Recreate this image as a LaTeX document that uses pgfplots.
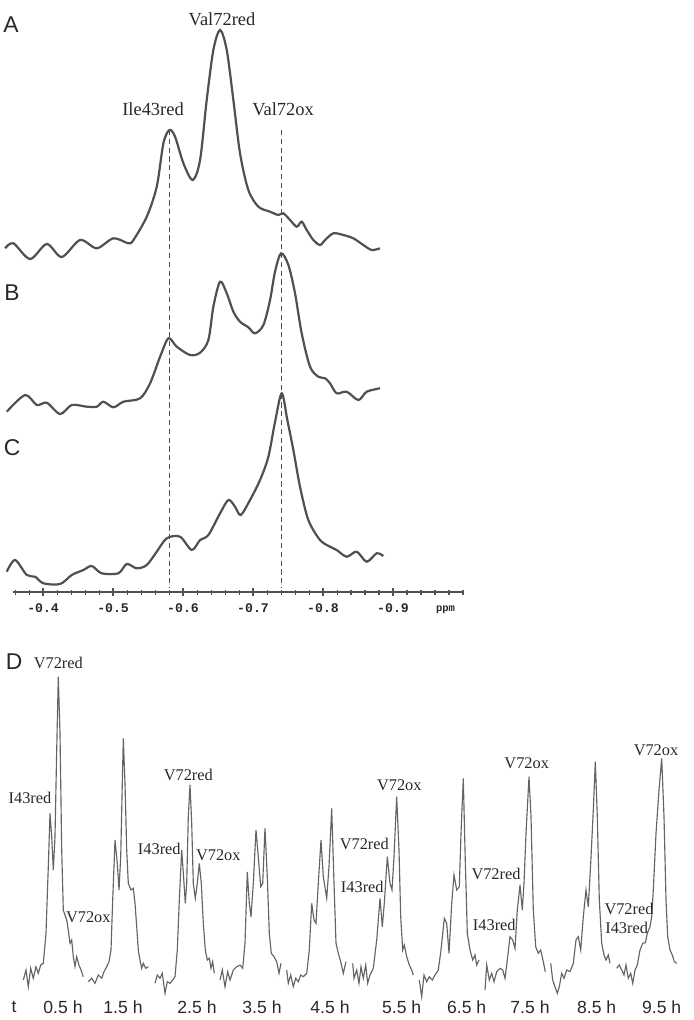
\documentclass[border=0pt]{standalone}
\usepackage{fontspec}
\setmainfont{Liberation Serif}
\setsansfont{Liberation Sans}
\setmonofont{Liberation Mono}
\usepackage{pgfplots}
\pgfplotsset{compat=1.18}
\definecolor{spec}{RGB}{80,80,80}
\definecolor{dspec}{RGB}{100,100,100}
\definecolor{lab}{RGB}{40,40,40}
\pgfplotsset{
  topline/.style={color=spec, line width=1.25pt, smooth, tension=0.5, mark=none, solid},
  dline/.style={color=dspec, line width=0.65pt, mark=none, solid},
}

\begin{document}
\begin{tikzpicture}
\path[use as bounding box] (0,0) rectangle (13.88cm,-20.4cm);

% panels A-C: stacked spectra on one ppm scale
\begin{axis}[
  at={(0.26cm,-11.84cm)}, anchor=south west,
  scale only axis, width=9cm, height=11.84cm,
  x dir=reverse, xmin=-1.0, xmax=-0.357, ymin=0, ymax=592,
  hide y axis, axis x line*=bottom,
  axis line style={-, spec, line width=0.7pt},
  xtick={-0.4,-0.5,-0.6,-0.7,-0.8,-0.9},
  xticklabels={-0.4,-0.5,-0.6,-0.7,-0.8,-0.9},
  minor xtick={-1.0,-0.98,...,-0.36},
  xtick align=center,
  major tick length=0.16cm, minor tick length=0.1cm,
  xtick style={draw=spec, line width=0.7pt},
  minor x tick style={draw=spec, line width=0.6pt},
  xticklabel style={font=\ttfamily\bfseries\fontsize{7.5}{8}\selectfont, text=lab, yshift=-1pt},
  clip=false,
]
% A
\addplot[topline] coordinates {
(-0.3457,343.7) (-0.3576,348.7) (-0.3814,333) (-0.4053,348) (-0.4267,335)
(-0.4529,352) (-0.4767,343.7) (-0.5005,353.7) (-0.5219,348.7) (-0.5291,352)
(-0.5481,375.3) (-0.5624,405.3) (-0.5719,448.7) (-0.5805,462) (-0.5886,455.3)
(-0.6005,428.7) (-0.6138,412) (-0.6243,432) (-0.6338,492) (-0.6433,542)
(-0.6529,562) (-0.6624,542) (-0.6719,492) (-0.6814,438.7) (-0.6933,402)
(-0.7076,385.3) (-0.7243,380.3) (-0.7362,377) (-0.7433,378.7) (-0.7529,372)
(-0.7624,365.3) (-0.7695,370.3) (-0.7767,362) (-0.7862,352) (-0.7957,347)
(-0.8029,352) (-0.8148,358.7) (-0.8290,357) (-0.8433,353.7) (-0.8576,347)
(-0.8695,342) (-0.8814,343.7)
};
% B
\addplot[topline] coordinates {
(-0.3481,180.3) (-0.3743,197) (-0.3910,187) (-0.4053,189.3) (-0.4243,178)
(-0.4410,187) (-0.4624,185.3) (-0.4767,185.3) (-0.4862,190.3) (-0.5005,184.7)
(-0.5148,190.3) (-0.5386,193.7) (-0.5529,208.7) (-0.5672,235.3) (-0.5791,253.7)
(-0.5910,245.3) (-0.6100,237) (-0.6243,239.3) (-0.6362,252) (-0.6433,285.3)
(-0.6529,310.3) (-0.6624,298.7) (-0.6719,280.3) (-0.6814,270.3) (-0.6933,264.7)
(-0.7029,258.7) (-0.7148,267) (-0.7243,292) (-0.7314,320.3) (-0.7400,338.7)
(-0.7505,327) (-0.7600,298.7) (-0.7695,258.7) (-0.7814,225.3) (-0.7933,215.3)
(-0.8029,213.7) (-0.8100,208.7) (-0.8195,198.7) (-0.8338,200.3) (-0.8505,192)
(-0.8624,200.3) (-0.8814,203.7)
};
% C
\addplot[topline] coordinates {
(-0.3481,20.3) (-0.3600,32) (-0.3767,17) (-0.3886,15.3) (-0.4005,8.7)
(-0.4243,8) (-0.4410,17) (-0.4576,22) (-0.4695,26) (-0.4838,18.7)
(-0.5076,18.7) (-0.5195,28) (-0.5338,23.7) (-0.5481,27) (-0.5624,40.3)
(-0.5767,53.7) (-0.5957,55.3) (-0.6124,42) (-0.6243,52) (-0.6362,57)
(-0.6529,78.7) (-0.6648,92) (-0.6743,85.3) (-0.6824,77) (-0.6957,92)
(-0.7100,112) (-0.7219,135.3) (-0.7314,170) (-0.7410,198.7) (-0.7490,172)
(-0.7576,142) (-0.7671,105.3) (-0.7790,72) (-0.7957,52) (-0.8100,45.3)
(-0.8195,42) (-0.8338,35.3) (-0.8481,40.3) (-0.8624,30.3) (-0.8767,38.7)
(-0.8862,36)
};
% reference lines
\addplot[spec, line width=0.6pt, dash pattern=on 3pt off 2pt] coordinates {(-0.58,462) (-0.58,5)};
\addplot[spec, line width=0.6pt, dash pattern=on 3pt off 2pt] coordinates {(-0.74,462) (-0.74,5)};

\node[font=\fontsize{10.5}{11}\selectfont, text=lab] at (axis cs:-0.6557,573) {Val72red};
\node[font=\fontsize{10.5}{11}\selectfont, text=lab] at (axis cs:-0.5571,483) {Ile43red};
\node[font=\fontsize{10.5}{11}\selectfont, text=lab] at (axis cs:-0.7429,483) {Val72ox};
\node[font=\sffamily\fontsize{13}{13}\selectfont, text=lab] at (axis cs:-0.3543,567) {A};
\node[font=\sffamily\fontsize{13}{13}\selectfont, text=lab] at (axis cs:-0.3557,299) {B};
\node[font=\sffamily\fontsize{13}{13}\selectfont, text=lab] at (axis cs:-0.3557,144) {C};
\node[font=\ttfamily\bfseries\fontsize{6}{7}\selectfont, text=lab] at (axis cs:-0.975,-18) {ppm};
\end{axis}

% panel D: time series of spectra, side by side
\begin{axis}[
  at={(0cm,-20cm)}, anchor=south west,
  scale only axis, width=13.88cm, height=7.2cm,
  xmin=0, xmax=694, ymin=0, ymax=360,
  hide axis, clip=false,
]
% 0.5 h
\addplot[dline] coordinates {
(23.3,20) (26,30) (28.3,13.3) (30.7,31.7) (33.3,21.7) (36,33.3) (38.3,26.7)
(40.7,35) (43.3,36.7) (46,66.7) (48.3,133.3) (50,186.7) (51.7,163.3) (53.3,130)
(55,163.3) (56.7,250) (58.3,323.3) (60,266.7) (61.7,150) (63.3,90) (66.7,80)
(68.3,70) (70,56.7) (71.7,60) (73.3,43.3) (75,33.3) (76.7,43.3) (79,35)
(81,30) (83.3,23.3)
};
% 1.5 h
\addplot[dline] coordinates {
(88.3,18.3) (91.7,21.7) (95,16.7) (98.3,25) (101.7,21.7) (104,28.3) (106.7,33.3)
(109,38.3) (111,50) (112.7,100) (115,160) (117.3,136.7) (119,110) (120.7,143.3)
(122.3,216.7) (123.3,261.7) (125,216.7) (126.7,150) (128.3,116.7) (131,110)
(133.3,111.7) (135,96.7) (136.7,73.3) (138.3,50) (140,40) (141.7,31.7)
(143.3,36.7) (145.7,31.7) (148.3,33.3)
};
% 2.5 h
\addplot[dline] coordinates {
(155,16.7) (157.3,25) (160,21.7) (162.3,26.7) (165,6.7) (167.3,18.3) (170,16.7)
(172.7,20) (175,23.3) (177.3,50) (179.3,100) (181.7,150) (184,116.7) (185.3,96.7)
(186.7,116.7) (188.3,183.3) (190,215) (191.7,176.7) (193.3,116.7) (195.3,101.7)
(197.3,116.7) (199.3,136.7) (201.3,116.7) (203.3,76.7) (205.3,50) (207.3,40)
(209.3,41.7) (211,31.7) (212.7,38.3) (214.3,26.7)
};
% 3.5 h
\addplot[dline] coordinates {
(220,20) (222.3,30) (225,13.3) (227.7,28.3) (230,20) (233.3,30) (236.7,33.3)
(240,35) (242.7,31.7) (245,56.7) (247.3,128) (249.3,96.7) (251,83.3) (253.3,116.7)
(256,170) (258.3,143.3) (260.7,113.3) (262.7,116.7) (265,171.7) (267.3,123.3)
(269.3,66.7) (271.3,46.7) (274,43.3) (276.7,38.3) (279,26.7) (281,36.7)
};
% 4.5 h
\addplot[dline] coordinates {
(286.7,30) (288.3,16.7) (290.7,25) (293.3,13.3) (295.7,21.7) (298.3,18.3)
(300.7,25) (303.3,23.3) (306.7,26.7) (309.3,50) (311.7,96.7) (314,80) (316,76.7)
(318.3,116.7) (321,160) (323.3,123.3) (326.7,101.7) (329,133.3) (331.7,191.7)
(334,116.7) (336,56.7) (338.3,46.7) (340.7,38.3) (343.3,26.7) (346,38.3)
};
% 5.5 h
\addplot[dline] coordinates {
(352.7,36.7) (354,21.7) (356.7,30) (359,16.7) (361,33.3) (363.3,21.7) (365.7,35)
(367.7,16.7) (370,25) (373.3,31.7) (376.7,60) (380,101.7) (382.3,73.3) (384.3,96.7)
(387.3,143.3) (390,116.7) (392,110) (394,143.3) (396.7,203.3) (399,150)
(400.7,83.3) (402.7,50) (404.3,55) (406.7,43.3) (409.3,35) (411.7,30) (413.3,25)
};
% 6.5 h
\addplot[dline] coordinates {
(419.3,20) (421.7,3.3) (424,25) (426.7,18.3) (429.3,23.3) (432.3,20) (435,25)
(438.3,30) (441,50) (444.3,81.7) (446.7,76.7) (449,46.7) (451.7,96.7) (454,125)
(456.7,110) (459.3,113.3) (461,166.7) (463.3,221.7) (465,150) (467.3,66.7)
(470,50) (472.7,40) (475,45) (476.7,35) (479,40)
};
% 7.5 h
\addplot[dline] coordinates {
(485,10) (486.7,35) (489.3,20) (491.7,26.7) (494,18.3) (496.7,28.3) (500,31.7)
(502.7,30) (505,21.7) (507.3,40) (510,63.3) (512.7,60) (515,51.7) (517.3,90)
(520,115) (522.3,90) (524,116.7) (526,166.7) (529,223.3) (531,183.3) (533.3,90)
(535.7,53.3) (538.3,46.7) (540.7,50) (543.3,38.3) (545.3,28.3)
};
% 8.5 h
\addplot[dline] coordinates {
(550.7,36.7) (552.7,20) (555,13.3) (557.3,6.7) (559.3,13.3) (561.7,26.7)
(564,21.7) (566.7,30) (570,28.3) (573.3,36.7) (576,60) (578.3,63.3) (580.7,50)
(583.3,83.3) (586,110) (588.3,93.3) (590.7,136.7) (593.3,190) (595.3,238.3)
(597.3,183.3) (599.3,100) (601.7,56.7) (604,45) (606,40) (608.3,45) (610,36.7)
};
% 9.5 h
\addplot[dline] coordinates {
(616.7,31.7) (619.3,35) (621.7,30) (624,25) (626,35) (628.3,21.7) (630.7,26.7)
(632.7,16.7) (635,30) (637.3,35) (640,50) (642.7,56.7) (645.3,57.3) (647.3,66.7)
(650,73.3) (651.7,83.3) (653.3,110) (656,166.7) (659,210) (661.7,241.7)
(664,183.3) (666,100) (667.7,63.3) (670,50) (672.3,45) (674.3,38.3) (676.7,36.7)
};

\node[font=\sffamily\fontsize{13}{13}\selectfont, text=lab] at (axis cs:14,338) {D};
\begin{scope}[every node/.style={font=\fontsize{9.3}{10}\selectfont, text=lab}]
\node at (axis cs:58.3,336.7) {V72red};
\node at (axis cs:30,201.7) {I43red};
\node at (axis cs:88.3,83.3) {V72ox};
\node at (axis cs:188.3,225) {V72red};
\node at (axis cs:159.3,151) {I43red};
\node at (axis cs:218.3,145) {V72ox};
\node at (axis cs:399.3,215) {V72ox};
\node at (axis cs:364.3,155.7) {V72red};
\node at (axis cs:362.3,113.3) {I43red};
\node at (axis cs:526.7,236.7) {V72ox};
\node at (axis cs:496,126) {V72red};
\node at (axis cs:494.3,74.7) {I43red};
\node at (axis cs:656,250) {V72ox};
\node at (axis cs:629,91) {V72red};
\node at (axis cs:626.7,71.7) {I43red};
\end{scope}
\begin{scope}[every node/.style={font=\sffamily\fontsize{10}{11}\selectfont, text=lab}]
\node at (axis cs:14,-7) {t};
\node at (axis cs:63,-7) {0.5 h};
\node at (axis cs:123,-7) {1.5 h};
\node at (axis cs:197,-7) {2.5 h};
\node at (axis cs:262,-7) {3.5 h};
\node at (axis cs:330,-7) {4.5 h};
\node at (axis cs:401.7,-7) {5.5 h};
\node at (axis cs:466.7,-7) {6.5 h};
\node at (axis cs:530,-7) {7.5 h};
\node at (axis cs:596.7,-7) {8.5 h};
\node at (axis cs:661.7,-7) {9.5 h};
\end{scope}
\end{axis}
\end{tikzpicture}
\end{document}
